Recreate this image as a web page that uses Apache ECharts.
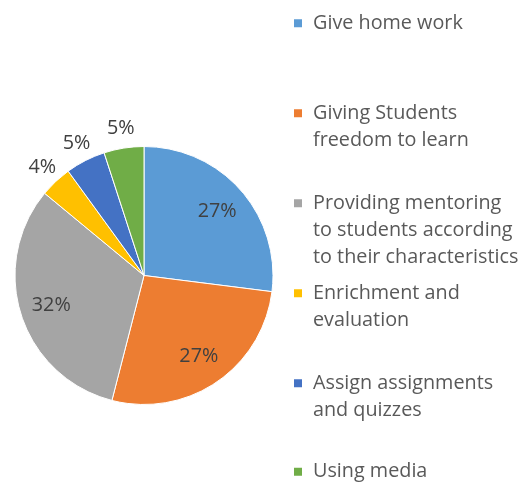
<!DOCTYPE html>
<html>
<head>
<meta charset="utf-8">
<script src="https://cdn.jsdelivr.net/npm/echarts@6/dist/echarts.min.js"></script>
<style>html,body{margin:0;padding:0;background:#fff}#c{width:520px;height:483px}</style>
</head>
<body>
<div id="c"></div>
<script>
const categories = ['Give home work', 'Giving Students\nfreedom to learn', 'Providing mentoring\nto students according\nto their characteristics', 'Enrichment and\nevaluation', 'Assign assignments\nand quizzes', 'Using media'];
const values = [27, 27, 32, 4, 5, 5];
const palette = ['#5B9BD5', '#ED7D31', '#A5A5A5', '#FFC000', '#4472C4', '#70AD47'];
const insideLabel = [true, true, true, false, false, false];

const FONT = '"Open Sans", sans-serif';
const FS = 19.8, LH = 27;
const center = [144, 275.5];
const firstLineCenters = [23.3, 113.3, 203.3, 293.3, 383.3, 471.7];

const chart = echarts.init(document.getElementById('c'), null, {renderer: 'canvas'});

const legends = categories.map((name, i) => {
  const n = name.split('\n').length;
  return {
    orient: 'vertical',
    left: 292,
    top: firstLineCenters[i] - (2 * n - 1) * LH / 2,
    padding: 0,
    itemWidth: 15,
    itemHeight: 10,
    itemGap: 10,
    icon: 'path://M0,0H10V10H0ZM15,0',
    selectedMode: false,
    formatter: nm => '\n'.repeat(n - 1) + nm,
    textStyle: {fontFamily: FONT, fontSize: FS, color: '#595959', lineHeight: LH},
    data: [{name: name, itemStyle: {color: palette[i]}}]
  };
});

const mainData = categories.map((name, i) => ({name, value: values[i], itemStyle: {color: palette[i]}}));
const labelData = (show) => categories.map((name, i) => ({
  name, value: values[i],
  label: {show: show[i]}
}));

chart.setOption({
  animation: false,
  legend: legends,
  series: [
    {
      type: 'pie', center: center, radius: [0, 129], startAngle: 90, clockwise: true,
      data: mainData,
      label: {show: false}, labelLine: {show: false},
      itemStyle: {borderColor: '#fff', borderWidth: 1},
      emphasis: {disabled: true}, silent: true
    },
    {
      type: 'pie', center: center, radius: [60, 129], startAngle: 90, clockwise: true,
      data: labelData(insideLabel),
      itemStyle: {color: 'rgba(0,0,0,0)'},
      label: {position: 'inside', formatter: p => p.value + '%', fontFamily: FONT, fontSize: FS, color: '#404040'},
      labelLine: {show: false}, emphasis: {disabled: true}, silent: true
    },
    {
      type: 'pie', center: center, radius: [129, 162], startAngle: 90, clockwise: true,
      data: labelData(insideLabel.map(v => !v)),
      itemStyle: {color: 'rgba(0,0,0,0)'},
      label: {position: 'inside', formatter: p => p.value + '%', fontFamily: FONT, fontSize: FS, color: '#404040'},
      labelLine: {show: false}, emphasis: {disabled: true}, silent: true
    }
  ]
});
</script>
</body>
</html>
